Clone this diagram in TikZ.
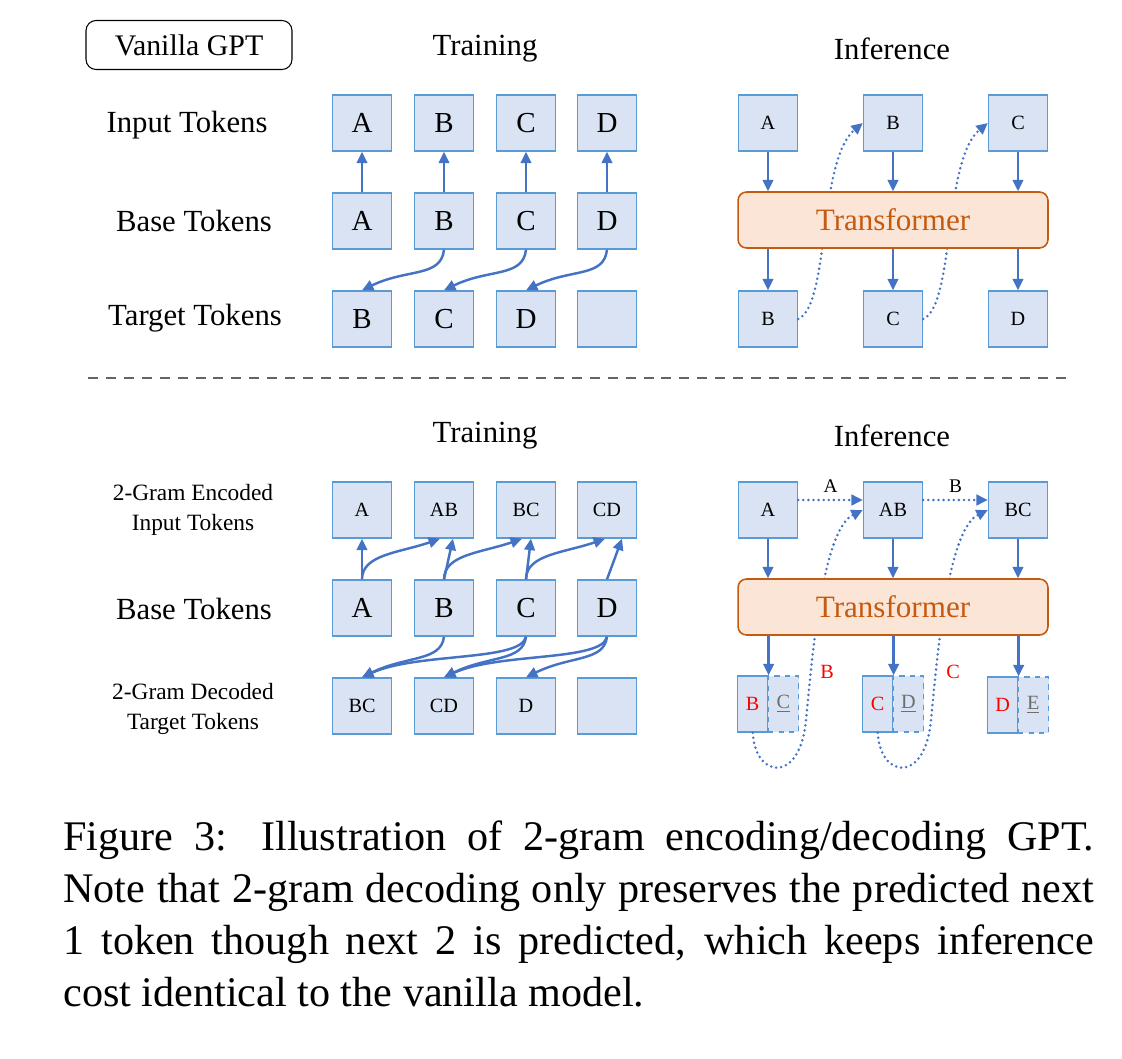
\documentclass[tikz,border=0pt]{standalone}
\usepackage{fontspec}
\setmainfont{Liberation Serif}
\usetikzlibrary{arrows.meta, positioning}

\definecolor{tokfill}{RGB}{218,227,243}
\definecolor{tokline}{RGB}{91,155,213}
\definecolor{arrowblue}{RGB}{68,114,196}
\definecolor{trfill}{RGB}{251,229,214}
\definecolor{trline}{RGB}{197,90,17}
\definecolor{predred}{RGB}{255,0,0}
\definecolor{extragrey}{RGB}{110,110,110}
\definecolor{sepgrey}{RGB}{100,100,100}

\begin{document}
\begin{tikzpicture}[x=0.02cm, y=-0.02cm,
  tok/.style={draw=tokline, fill=tokfill, line width=0.8pt, minimum width=1.18cm, minimum height=1.12cm, inner sep=0pt, font=\fontsize{16.5}{18}\selectfont},
  smalltok/.style={tok, font=\fontsize{11.5}{13}\selectfont},
  halftok/.style={smalltok, minimum width=0.61cm},
  extratok/.style={halftok, dashed, text=extragrey},
  rowlabel/.style={font=\fontsize{17.5}{20}\selectfont},
  smalllabel/.style={font=\fontsize{13.3}{17}\selectfont, align=center},
  transformer/.style={draw=trline, fill=trfill, line width=0.9pt, rounded corners=0.17cm, minimum width=6.2cm, minimum height=1.12cm, text=trline, font=\fontsize{17.7}{20}\selectfont},
  flow/.style={arrowblue, line width=1.4pt, -{Triangle[length=6.5pt,width=6pt]}},
  feed/.style={flow, line width=1.6pt, line cap=round, dash pattern=on 0pt off 2.9pt},
  feedlabel/.style={text=black, font=\fontsize{11}{13}\selectfont},
  predlabel/.style={text=predred, font=\fontsize{11.5}{13}\selectfont},
]
\useasboundingbox (0,0) rectangle (1122,1058);

% ---- vanilla GPT ----
\node[draw, rounded corners=0.2cm, line width=0.6pt, minimum width=4.12cm, minimum height=0.98cm, font=\fontsize{17}{20}\selectfont] (vanilla) at (189,45) {Vanilla GPT};
\node[rowlabel] (trainhead) at (485,49) {Training};
\node[rowlabel] (inferhead) at (892,49) {Inference};

\node[rowlabel] (inlabel) at (187,125) {Input Tokens};
\node[rowlabel] (baselabel) at (194,221) {Base Tokens};
\node[rowlabel] (tgtlabel) at (195,318) {Target Tokens};

% training, vanilla
\node[tok] (inA) at (362,123) {A};
\node[tok] (inB) at (444,123) {B};
\node[tok] (inC) at (526,123) {C};
\node[tok] (inD) at (607,123) {D};
\node[tok] (baseA) at (362,221) {A};
\node[tok] (baseB) at (444,221) {B};
\node[tok] (baseC) at (526,221) {C};
\node[tok] (baseD) at (607,221) {D};
\node[tok] (tgtB) at (362,319) {B};
\node[tok] (tgtC) at (444,319) {C};
\node[tok] (tgtD) at (526,319) {D};
\node[tok] (tgtE) at (607,319) {};

\draw[flow] (baseA) -- (inA);
\draw[flow] (baseB) -- (inB);
\draw[flow] (baseC) -- (inC);
\draw[flow] (baseD) -- (inD);
\draw[flow] (baseB.south) .. controls +(-3,28) and +(45,-22) .. (tgtB.north);
\draw[flow] (baseC.south) .. controls +(-3,28) and +(45,-22) .. (tgtC.north);
\draw[flow] (baseD.south) .. controls +(-3,28) and +(45,-22) .. (tgtD.north);

% inference, vanilla
\node[smalltok] (vinA) at (768,123) {A};
\node[smalltok] (vinB) at (893,123) {B};
\node[smalltok] (vinC) at (1018,123) {C};
\node[smalltok] (voutB) at (768,319) {B};
\node[smalltok] (voutC) at (893,319) {C};
\node[smalltok] (voutD) at (1018,319) {D};

\draw[feed] (voutB.east) .. controls (830,305) and (818,160) .. (vinB.west);
\draw[feed] (voutC.east) .. controls (955,305) and (943,160) .. (vinC.west);

\node[transformer] (vtr) at (893,220) {Transformer};

\draw[flow] (vinA) -- (vinA |- vtr.north);
\draw[flow] (vinB) -- (vinB |- vtr.north);
\draw[flow] (vinC) -- (vinC |- vtr.north);
\draw[flow] (voutB |- vtr.south) -- (voutB);
\draw[flow] (voutC |- vtr.south) -- (voutC);
\draw[flow] (voutD |- vtr.south) -- (voutD);

% ---- separator ----
\draw[sepgrey, line width=1.1pt, dash pattern=on 5.7pt off 4.5pt] (88,378) -- (1068,378);

% ---- 2-gram GPT ----
\node[rowlabel] (trainhead2) at (485,436) {Training};
\node[rowlabel] (inferhead2) at (892,436) {Inference};

\node[smalllabel] (enclabel) at (193,510) {2-Gram Encoded\\Input Tokens};
\node[rowlabel] (baselabel2) at (194,609) {Base Tokens};
\node[smalllabel] (declabel) at (193,709) {2-Gram Decoded\\Target Tokens};

% training, 2-gram
\node[smalltok] (encA) at (362,510) {A};
\node[smalltok] (encAB) at (444,510) {AB};
\node[smalltok] (encBC) at (526,510) {BC};
\node[smalltok] (encCD) at (607,510) {CD};
\node[tok] (gbaseA) at (362,608) {A};
\node[tok] (gbaseB) at (444,608) {B};
\node[tok] (gbaseC) at (526,608) {C};
\node[tok] (gbaseD) at (607,608) {D};
\node[smalltok] (decBC) at (362,706) {BC};
\node[smalltok] (decCD) at (444,706) {CD};
\node[smalltok] (decD) at (526,706) {D};
\node[smalltok] (decE) at (607,706) {};

\draw[flow] (gbaseA) -- (encA);
\draw[flow] (gbaseA.north) .. controls +(0,-25) and +(-40,14) .. ([xshift=-0.08cm]encAB.south);
\draw[flow] (gbaseB.north) -- ([xshift=0.18cm]encAB.south);
\draw[flow] (gbaseB.north) .. controls +(0,-25) and +(-40,14) .. ([xshift=-0.08cm]encBC.south);
\draw[flow] (gbaseC.north) -- ([xshift=0.1cm]encBC.south);
\draw[flow] (gbaseC.north) .. controls +(0,-25) and +(-40,14) .. ([xshift=-0.04cm]encCD.south);
\draw[flow] (gbaseD.north) -- ([xshift=0.3cm]encCD.south);

\draw[flow] (gbaseB.south) .. controls +(-3,25) and +(45,-22) .. (decBC.north);
\draw[flow] (gbaseC.south) .. controls +(-5,25) and +(55,-25) .. (decBC.north);
\draw[flow] (gbaseC.south) .. controls +(-3,25) and +(45,-22) .. (decCD.north);
\draw[flow] (gbaseD.south) .. controls +(-5,25) and +(55,-25) .. (decCD.north);
\draw[flow] (gbaseD.south) .. controls +(-3,25) and +(45,-22) .. (decD.north);

% inference, 2-gram
\node[smalltok] (ginA) at (768,510) {A};
\node[smalltok] (ginAB) at (893,510) {AB};
\node[smalltok] (ginBC) at (1018,510) {BC};
\node[halftok] (gpredB) at (752.7,704) {\textcolor{predred}{B}};
\node[extratok] (gextraC) at (783.3,704) {\underline{C}};
\node[halftok] (gpredC) at (877.7,704) {\textcolor{predred}{C}};
\node[extratok] (gextraD) at (908.3,704) {\underline{D}};
\node[halftok] (gpredD) at (1002.7,705) {\textcolor{predred}{D}};
\node[extratok] (gextraE) at (1033.3,705) {\underline{E}};

\draw[feed] ([yshift=0.2cm]ginA.east) -- node[above, feedlabel] {A} ([yshift=0.2cm]ginAB.west);
\draw[feed] ([yshift=0.2cm]ginAB.east) -- node[above, feedlabel] {B} ([yshift=0.2cm]ginBC.west);
\draw[feed] (gpredB.south) .. controls (755,778) and (800,785) .. (806,720) .. controls (812,660) and (822,530) .. (ginAB.west);
\draw[feed] (gpredC.south) .. controls (880,778) and (925,785) .. (931,720) .. controls (937,660) and (947,530) .. (ginBC.west);
\node[predlabel] (redB) at (827,672) {B};
\node[predlabel] (redC) at (953,672) {C};

\node[transformer] (gtr) at (893,607) {Transformer};

\draw[flow] (ginA) -- (ginA |- gtr.north);
\draw[flow] (ginAB) -- (ginAB |- gtr.north);
\draw[flow] (ginBC) -- (ginBC |- gtr.north);
\draw[flow] (gpredB.north east |- gtr.south) -- (gpredB.north east);
\draw[flow] (gpredC.north east |- gtr.south) -- (gpredC.north east);
\draw[flow] (gpredD.north east |- gtr.south) -- (gpredD.north east);

% ---- caption ----
\node[anchor=base west, inner sep=0pt, text width=20.62cm, align=justify, font=\fontsize{24}{29.7}\selectfont] (caption) at (63,850)
  {Figure 3: Illustration of 2-gram encoding/decoding GPT.\linebreak
   Note that 2-gram decoding only preserves the predicted next\linebreak
   1 token though next 2 is predicted, which keeps inference\linebreak
   cost identical to the vanilla model.};
\end{tikzpicture}
\end{document}
